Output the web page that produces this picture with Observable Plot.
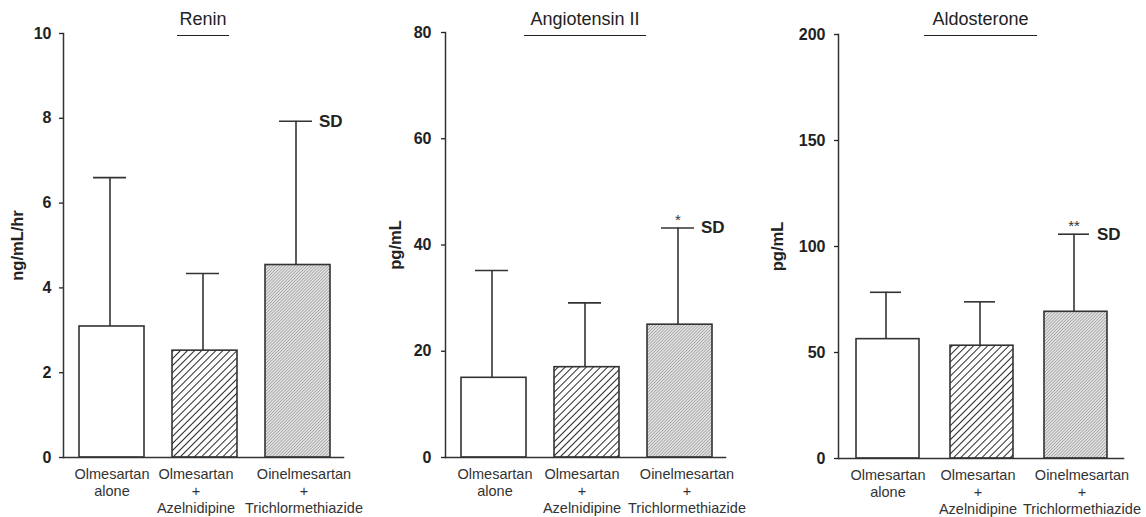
<!DOCTYPE html>
<html>
<head>
<meta charset="utf-8">
<script src="https://cdn.jsdelivr.net/npm/d3@7"></script>
<script src="https://cdn.jsdelivr.net/npm/@observablehq/plot@0.6"></script>
<style>
  html, body { margin: 0; padding: 0; background: #fff; }
  body { font-family: "Liberation Sans", Arial, Helvetica, sans-serif; }
  #wrap { position: relative; width: 1146px; height: 517px; overflow: hidden; background: #fff; }
  .panel { position: absolute; top: 0; }
  .title { position: absolute; top: 9px; text-align: center; font-size: 18px; line-height: 20px; color: #222; }
  .title span { display: inline-block; padding-bottom: 6px; border-bottom: 1.3px solid #222; }
</style>
</head>
<body>
<svg width="0" height="0" style="position:absolute">
  <defs>
    <pattern id="hatchWide" patternUnits="userSpaceOnUse" width="5" height="5" patternTransform="rotate(45)">
      <rect width="5" height="5" fill="#fff"/>
      <line x1="0" y1="0" x2="0" y2="5" stroke="#2a2a2a" stroke-width="2"/>
    </pattern>
    <pattern id="hatchFine" patternUnits="userSpaceOnUse" width="2.2" height="2.2" patternTransform="rotate(45)">
      <rect width="2.2" height="2.2" fill="#e2e2e2"/>
      <line x1="0" y1="0" x2="0" y2="2.2" stroke="#8a8a8a" stroke-width="1.1"/>
    </pattern>
  </defs>
</svg>
<div id="wrap"></div>
<script>
// ---- data ----
const categories = ["Olmesartan alone", "Olmesartan + Azelnidipine", "Oinelmesartan + Trichlormethiazide"];
const tickLabels = ["Olmesartan\nalone", "Olmesartan\n+\nAzelnidipine", "Oinelmesartan\n+\nTrichlormethiazide"];
const barFills = ["#ffffff", "url(#hatchWide)", "url(#hatchFine)"];

const panelTitles = ["Renin", "Angiotensin II", "Aldosterone"];
const yLabels = ["ng/mL/hr", "pg/mL", "pg/mL"];
const yMax = [10, 80, 200];
const yTicks = [[0, 2, 4, 6, 8, 10], [0, 20, 40, 60, 80], [0, 50, 100, 150, 200]];

const reninMean = [3.09, 2.52, 4.54];
const reninSD = [3.51, 1.82, 3.39];
const reninSig = ["", "", ""];

const angMean = [15.0, 17.0, 25.0];
const angSD = [20.2, 12.1, 18.2];
const angSig = ["", "", "*"];

const aldoMean = [56.3, 53.2, 69.2];
const aldoSD = [22.1, 20.7, 36.6];
const aldoSig = ["", "", "**"];

const sdLabel = "SD";

// ---- layout (positions/styles) ----
const layout = [
  {left: 0,   width: 380, mL: 63, mR: 37, mT: 33, mB: 60, pi: 0.30, po: 0.15, align: 0.57, tickPad: 8,  yLabDx: -46, labDx: [0, -9, 6], titlePad: 2.5},
  {left: 380, width: 380, mL: 65, mR: 35, mT: 32, mB: 60, pi: 0.30, po: 0.15, align: 0.57, tickPad: 10, yLabDx: -50, labDx: [1, -5, 7], titlePad: 6},
  {left: 760, width: 386, mL: 78, mR: 23, mT: 34, mB: 59, pi: 0.33, po: 0.17, align: 0.54, tickPad: 9,  yLabDx: -61, labDx: [0, -4, 6], titlePad: 8.5}
];

const series = [
  {mean: reninMean, sd: reninSD, sig: reninSig},
  {mean: angMean, sd: angSD, sig: angSig},
  {mean: aldoMean, sd: aldoSD, sig: aldoSig}
];

const wrap = document.getElementById("wrap");
const font = '"Liberation Sans", Arial, Helvetica, sans-serif';
const ink = "#222";

series.forEach((s, p) => {
  const L = layout[p];
  const data = categories.map((c, i) => ({
    cat: c, label: tickLabels[i], mean: s.mean[i], upper: s.mean[i] + s.sd[i], sig: s.sig[i], fill: barFills[i], i
  }));

  const chart = Plot.plot({
    width: L.width,
    height: 517,
    marginLeft: L.mL, marginRight: L.mR, marginTop: L.mT, marginBottom: L.mB,
    style: {fontFamily: font, background: "transparent", color: ink, overflow: "visible"},
    x: {type: "band", domain: categories, paddingInner: L.pi, paddingOuter: L.po, align: L.align, axis: null},
    y: {domain: [0, yMax[p]], axis: null},
    color: {type: "identity"},
    marks: [
      Plot.ruleX(data, {x: "cat", y1: "mean", y2: "upper", dx: -2, stroke: "#333", strokeWidth: 1.6}),
      Plot.tickY(data, {x: "cat", y: "upper", insetLeft: 14, insetRight: 18, stroke: "#333", strokeWidth: 1.6}),
      Plot.barY(data, {x: "cat", y: "mean", fill: "fill", stroke: "#333", strokeWidth: 1.6}),
      Plot.frame({anchor: "left", stroke: "#333", strokeWidth: 1.5}),
      Plot.frame({anchor: "bottom", stroke: "#333", strokeWidth: 1.5}),
      Plot.axisY({ticks: yTicks[p], tickSize: 4, tickPadding: L.tickPad, fontSize: 16, fontWeight: "bold", label: null, color: ink, strokeWidth: 1.3}),
      Plot.text([yLabels[p]], {frameAnchor: "left", dx: L.yLabDx, rotate: -90, textAnchor: "middle", lineAnchor: "middle", fontWeight: "bold", fontSize: 16.5, fill: ink}),
      ...data.map((d, i) => Plot.text([d], {x: "cat", text: "label", frameAnchor: "bottom", lineAnchor: "top", dy: 9, dx: L.labDx[i], fontSize: 14.5, lineHeight: 1.18, fill: "#333"})),
      Plot.text(data.filter(d => d.sig), {x: "cat", y: "upper", text: "sig", lineAnchor: "bottom", dy: -3, dx: -2, fontSize: 15, fill: "#333"}),
      Plot.text([data[2]], {x: "cat", y: "upper", text: () => sdLabel, textAnchor: "start", lineAnchor: "middle", dx: 21, fontWeight: "bold", fontSize: 17, fill: ink})
    ]
  });

  const panel = document.createElement("div");
  panel.className = "panel";
  panel.style.left = L.left + "px";
  panel.style.width = L.width + "px";
  panel.appendChild(chart);

  const title = document.createElement("div");
  title.className = "title";
  title.style.left = L.mL + "px";
  title.style.width = (L.width - L.mL - L.mR) + "px";
  const span = document.createElement("span");
  span.textContent = panelTitles[p];
  span.style.paddingLeft = L.titlePad + "px";
  span.style.paddingRight = L.titlePad + "px";
  title.appendChild(span);
  panel.appendChild(title);

  wrap.appendChild(panel);
});
</script>
</body>
</html>
